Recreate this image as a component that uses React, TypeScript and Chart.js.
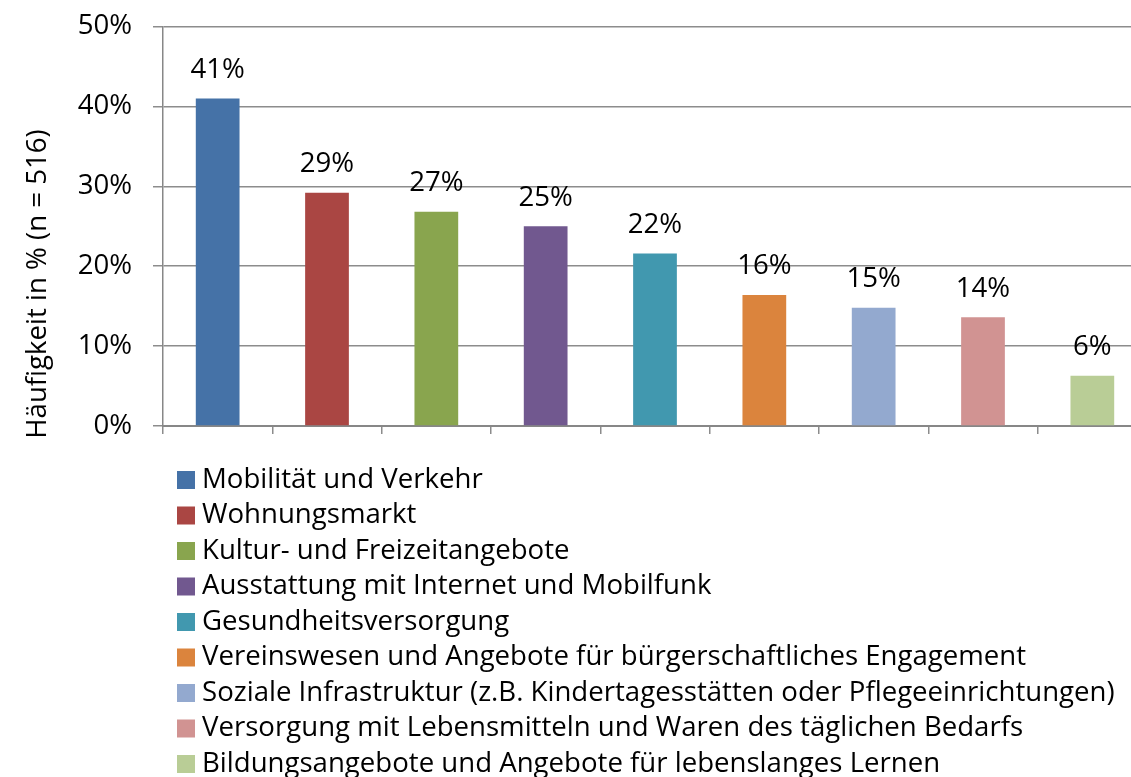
import React, { useEffect, useRef } from 'react';
import { Chart, registerables } from 'chart.js';

Chart.register(...registerables);

const categories = [
  'Mobilität und Verkehr',
  'Wohnungsmarkt',
  'Kultur- und Freizeitangebote',
  'Ausstattung mit Internet und Mobilfunk',
  'Gesundheitsversorgung',
  'Vereinswesen und Angebote für bürgerschaftliches Engagement',
  'Soziale Infrastruktur (z.B. Kindertagesstätten oder Pflegeeinrichtungen)',
  'Versorgung mit Lebensmitteln und Waren des täglichen Bedarfs',
  'Bildungsangebote und Angebote für lebenslanges Lernen',
];
const values = [41.0, 29.2, 26.8, 25.0, 21.6, 16.4, 14.8, 13.6, 6.3];
const colors = ['#4572A7', '#AA4643', '#89A54E', '#71588F', '#4198AF', '#DB843D', '#93A9CF', '#D19392', '#B9CD96'];
const yMin = 0;
const yMax = 50;
const yStep = 10;
const axisTitle = 'Häufigkeit in % (n = 516)';

const FONT = '"Open Sans", Lato, sans-serif';
const FONT_SIZE = 27.6;

const W = 1147;
const H = 777;
const PLOT_TOP = 26.5;
const PLOT_BOTTOM = 426;
const PLOT_LEFT = 163;

const valueLabelPlugin = {
  id: 'valueLabels',
  afterDatasetsDraw(chart: any) {
    const ctx = chart.ctx;
    const meta = chart.getDatasetMeta(0);
    ctx.save();
    ctx.font = `${FONT_SIZE}px ${FONT}`;
    ctx.fillStyle = '#000';
    ctx.textAlign = 'center';
    ctx.textBaseline = 'alphabetic';
    meta.data.forEach((bar: any, i: number) => {
      const v = chart.data.datasets[0].data[i];
      ctx.fillText(`${Math.round(v)}%`, bar.x, bar.y - 20.5);
    });
    ctx.restore();
  },
};

const customLegendPlugin = {
  id: 'customLegend',
  afterDraw(chart: any) {
    const ctx = chart.ctx;
    ctx.save();
    ctx.font = `${FONT_SIZE}px ${FONT}`;
    ctx.textAlign = 'left';
    ctx.textBaseline = 'middle';
    const labels: string[] = chart.data.labels;
    const bg: string[] = chart.data.datasets[0].backgroundColor;
    labels.forEach((lab, i) => {
      const y = 471 + i * 35.5;
      ctx.fillStyle = bg[i];
      ctx.fillRect(177, y, 18, 18);
      ctx.fillStyle = '#000';
      ctx.fillText(lab, 202, y + 9);
    });
    // y-axis title
    ctx.translate(38, 284);
    ctx.rotate(-Math.PI / 2);
    ctx.textAlign = 'center';
    ctx.textBaseline = 'middle';
    ctx.fillText(axisTitle, 0, 0);
    ctx.restore();
  },
};

export default function App() {
  const ref = useRef<HTMLCanvasElement | null>(null);

  useEffect(() => {
    if (!ref.current) return;
    Chart.defaults.font.family = FONT;
    const chart = new Chart(ref.current, {
      type: 'bar',
      data: {
        labels: categories,
        datasets: [
          {
            data: values,
            backgroundColor: colors,
            borderWidth: 0,
            categoryPercentage: 1,
            barPercentage: 0.4,
          },
        ],
      },
      options: {
        animation: false,
        responsive: false,
        devicePixelRatio: 1,
        layout: { autoPadding: false, padding: { top: PLOT_TOP, left: 0, right: 0, bottom: 0 } },
        plugins: {
          legend: { display: false },
          tooltip: { enabled: false },
          title: { display: false },
        },
        scales: {
          x: {
            ticks: { display: false },
            grid: {
              drawOnChartArea: false,
              drawTicks: true,
              tickLength: 8,
              color: '#8c8c8c',
              lineWidth: 1.5,
            },
            border: { display: true, color: '#878787', width: 2 },
            afterFit: (s: any) => {
              s.height = H - PLOT_BOTTOM;
              s.paddingLeft = 0;
              s.paddingRight = 0;
            },
          },
          y: {
            min: yMin,
            max: yMax,
            ticks: {
              stepSize: yStep,
              callback: (v: any) => `${v}%`,
              font: { size: FONT_SIZE, family: FONT },
              color: '#000',
              padding: 21,
            },
            grid: {
              color: '#8c8c8c',
              lineWidth: 1.5,
              tickLength: 10,
            },
            border: { display: true, color: '#878787', width: 1.5 },
            afterFit: (s: any) => {
              s.width = PLOT_LEFT;
              s.paddingTop = 0;
              s.paddingBottom = 0;
            },
          },
        },
      },
      plugins: [valueLabelPlugin, customLegendPlugin],
    });
    return () => chart.destroy();
  }, []);

  return (
    <div
      style={{
        position: 'fixed',
        left: 0,
        top: 0,
        width: 1131,
        height: 777,
        overflow: 'hidden',
        background: '#fff',
      }}
    >
      <canvas ref={ref} width={W} height={H} style={{ display: 'block' }} />
    </div>
  );
}
